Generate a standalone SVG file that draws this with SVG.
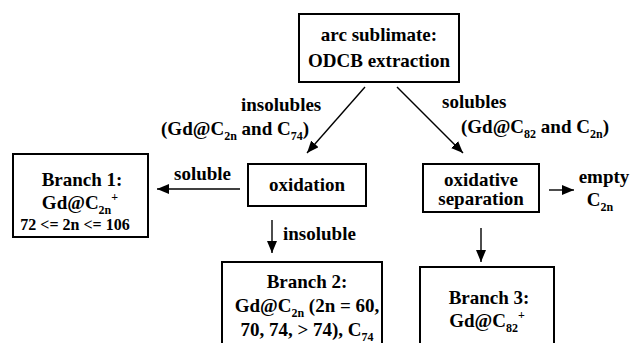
<svg xmlns="http://www.w3.org/2000/svg" width="630" height="343" viewBox="0 0 630 343">
<style>
  .box { fill: #fff; stroke: #000; stroke-width: 2; }
  text { font-family: 'Liberation Serif', 'DejaVu Serif', serif; font-weight: bold; font-size: 19px; fill: #000; }
  .c { text-anchor: middle; }
  .s { font-size: 16px; }
  .sub { font-size: 12px; }
  .line { stroke: #000; stroke-width: 1.4; fill: none; marker-end: url(#ah); }
</style>
<defs>
  <marker id="ah" viewBox="0 0 12 10" refX="12" refY="5" markerWidth="12" markerHeight="10" markerUnits="userSpaceOnUse" orient="auto">
    <path d="M0,0 L12,5 L0,10 Z" fill="#000"/>
  </marker>
</defs>
<rect width="630" height="343" fill="#fff"/>

<g id="connectors">
  <line class="line" x1="365" y1="87" x2="307" y2="153"/>
  <line class="line" x1="397" y1="87" x2="463" y2="153"/>
  <line class="line" x1="240" y1="189" x2="157" y2="189"/>
  <line class="line" x1="272" y1="220" x2="272" y2="253"/>
  <line class="line" x1="549" y1="190" x2="574" y2="190"/>
  <line class="line" x1="481" y1="228" x2="481" y2="262"/>
  <text x="241" y="111">insolubles</text>
  <text x="309" y="135" text-anchor="end">(Gd@C<tspan class="sub" dy="5">2n</tspan><tspan dy="-5"> and C</tspan><tspan class="sub" dy="5">74</tspan><tspan dy="-5">)</tspan></text>
  <text x="442" y="108">solubles</text>
  <text x="461" y="133">(Gd@C<tspan class="sub" dy="5">82</tspan><tspan dy="-5"> and C</tspan><tspan class="sub" dy="5">2n</tspan><tspan dy="-5">)</tspan></text>
  <text x="174" y="180">soluble</text>
  <text x="283" y="240">insoluble</text>
</g>

<g id="extraction">
  <rect class="box" x="299" y="14" width="160" height="68"/>
  <text class="c" x="379" y="41">arc sublimate:</text>
  <text class="c" x="379" y="67">ODCB extraction</text>
</g>

<g id="oxidation">
  <rect class="box" x="248" y="164" width="118" height="42"/>
  <text class="c" x="307" y="191">oxidation</text>
</g>

<g id="oxidative-separation">
  <rect class="box" x="423" y="164" width="116" height="48"/>
  <text class="c" x="481" y="186">oxidative</text>
  <text class="c" x="481" y="205">separation</text>
</g>

<g id="empty">
  <text class="c" x="604" y="183">empty</text>
  <text class="c" x="600" y="206">C<tspan class="sub" dy="5">2n</tspan></text>
</g>

<g id="branch1">
  <rect class="box" x="13" y="154" width="135" height="83"/>
  <text class="c" x="82" y="186">Branch 1:</text>
  <text class="c" x="80" y="209">Gd@C<tspan class="sub" dy="5">2n</tspan><tspan class="sub" dy="-13">+</tspan></text>
  <text class="c s" x="75" y="230">72 &lt;= 2n &lt;= 106</text>
</g>

<g id="branch2">
  <rect class="box" x="222" y="262" width="160" height="90"/>
  <text class="c" x="307" y="288">Branch 2:</text>
  <text class="c" x="307" y="312">Gd@C<tspan class="sub" dy="5">2n</tspan><tspan dy="-5"> (2n = 60,</tspan></text>
  <text class="c" x="307" y="336">70, 74, &gt; 74), C<tspan class="sub" dy="5">74</tspan></text>
</g>

<g id="branch3">
  <rect class="box" x="420" y="267" width="134" height="85"/>
  <text class="c" x="489" y="304">Branch 3:</text>
  <text class="c" x="487" y="327">Gd@C<tspan class="sub" dy="5">82</tspan><tspan class="sub" dy="-13">+</tspan></text>
</g>
</svg>
